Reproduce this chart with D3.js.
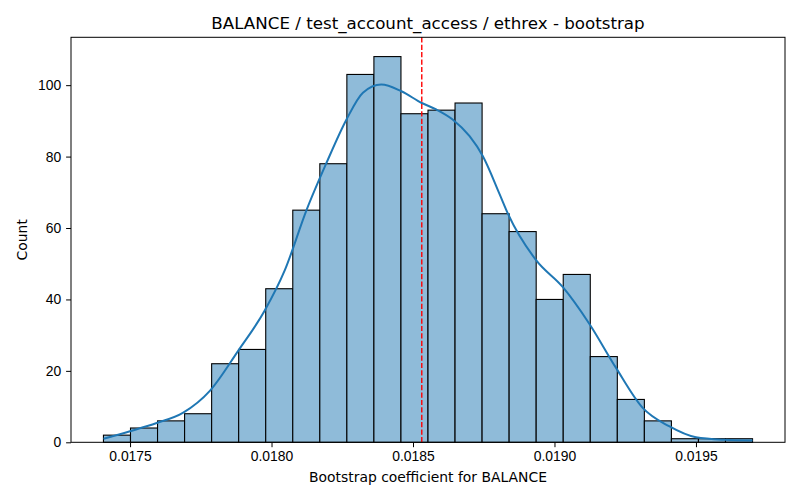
<!DOCTYPE html>
<html>
<head>
  <script src="https://d3js.org/d3.v7.min.js"></script>
  <style>
    body {
  margin: 0;
  background-color: #ffffff;
  font-family: 'DejaVu Sans', sans-serif;
}

svg {
  display: block;
}

.tick text {
  font-size: 13.9px;
  fill: #000000;
}

.tick line,
.domain {
  stroke: #000000;
  stroke-width: 1px;
}

.bar {
  fill: #8fbbd9;
  stroke: #000000;
  stroke-width: 1.1px;
}

.kde {
  fill: none;
  stroke: #1f77b4;
  stroke-width: 2px;
}
  </style>
</head>
<body>

<script>
// Histogram bins (24 equal bins between the sample min and max).
const binStart = 0.017406;
const binEnd = 0.0197;
const counts = [2, 4, 6, 8, 22, 26, 43, 65, 78, 103, 108, 92,
                93, 95, 64, 59, 40, 47, 24, 12, 6, 1, 1, 1];

// KDE curve: x values and counts.
const kdeX = [0.017406, 0.0175, 0.017594, 0.017688, 0.017782, 0.017882,
              0.017976, 0.018047, 0.018124, 0.018194, 0.018265, 0.018323,
              0.018388, 0.018459, 0.018531, 0.018582, 0.018640, 0.018700,
              0.018747, 0.018806, 0.018835, 0.018935, 0.019029, 0.019123,
              0.019217, 0.019311, 0.019405, 0.0195, 0.0196, 0.0197];
const kdeY = [1.0, 3.1, 5.4, 8.3, 14.4, 25.6,
              36.9, 48.2, 65.1, 78.2, 90.4, 97.9,
              100.2, 98.3, 95.0, 93.2, 90.4, 85.7,
              80.1, 69.5, 64.1, 51.0, 43.5, 33.2,
              20.9, 9.7, 4.5, 1.4, 0.7, 0.5];

// Observed coefficient (red dashed line).
const observed = 0.018531;

const xTicks = [0.0175, 0.0180, 0.0185, 0.0190, 0.0195];
const yTicks = [0, 20, 40, 60, 80, 100];

const title = "BALANCE / test_account_access / ethrex - bootstrap";
const xLabel = "Bootstrap coefficient for BALANCE";
const yLabel = "Count";

const width = 800;
const height = 500;
const margin = { top: 37.3, right: 15, bottom: 57.7, left: 71 };

const binWidth = (binEnd - binStart) / counts.length;
const bins = counts.map((c, i) => ({
  x0: binStart + i * binWidth,
  x1: binStart + (i + 1) * binWidth,
  count: c
}));

// matplotlib-style 5% margins on the data range
const pad = (binEnd - binStart) * 0.05;
const x = d3.scaleLinear()
  .domain([binStart - pad, binEnd + pad])
  .range([margin.left, width - margin.right]);

const y = d3.scaleLinear()
  .domain([0, d3.max(counts) * 1.05])
  .range([height - margin.bottom, margin.top]);

const svg = d3.select("body")
  .append("svg")
  .attr("width", width)
  .attr("height", height)
  .style("font-family", "'DejaVu Sans', sans-serif");

// bars
svg.append("g")
  .selectAll("rect")
  .data(bins)
  .join("rect")
  .attr("class", "bar")
  .attr("x", d => x(d.x0))
  .attr("y", d => y(d.count))
  .attr("width", d => x(d.x1) - x(d.x0))
  .attr("height", d => y(0) - y(d.count));

// kde line
const line = d3.line()
  .x(d => x(d[0]))
  .y(d => y(d[1]))
  .curve(d3.curveMonotoneX);

svg.append("path")
  .datum(kdeX.map((v, i) => [v, kdeY[i]]))
  .attr("class", "kde")
  .attr("d", line);

// observed value
svg.append("line")
  .attr("x1", x(observed))
  .attr("x2", x(observed))
  .attr("y1", margin.top)
  .attr("y2", height - margin.bottom)
  .attr("stroke", "#ff0000")
  .attr("stroke-width", 1.4)
  .attr("stroke-dasharray", "5.2,2.2");

// axes
svg.append("g")
  .attr("transform", `translate(0,${height - margin.bottom})`)
  .call(d3.axisBottom(x)
    .tickValues(xTicks)
    .tickFormat(d3.format(".4f"))
    .tickSize(4.9)
    .tickPadding(4.4)
    .tickSizeOuter(0));

svg.append("g")
  .attr("transform", `translate(${margin.left},0)`)
  .call(d3.axisLeft(y)
    .tickValues(yTicks)
    .tickSize(4.9)
    .tickPadding(4.9)
    .tickSizeOuter(0));

svg.selectAll(".domain").remove();

// frame (all four spines)
svg.append("rect")
  .attr("x", margin.left)
  .attr("y", margin.top)
  .attr("width", width - margin.left - margin.right)
  .attr("height", height - margin.top - margin.bottom)
  .attr("fill", "none")
  .attr("stroke", "#000")
  .attr("stroke-width", 1);

// title and labels
svg.append("text")
  .attr("x", (margin.left + width - margin.right) / 2)
  .attr("y", 29.3)
  .attr("text-anchor", "middle")
  .attr("font-size", "16.7px")
  .text(title);

svg.append("text")
  .attr("x", (margin.left + width - margin.right) / 2)
  .attr("y", 482)
  .attr("text-anchor", "middle")
  .attr("font-size", "13.9px")
  .text(xLabel);

svg.append("text")
  .attr("transform", `translate(27,${(margin.top + height - margin.bottom) / 2}) rotate(-90)`)
  .attr("text-anchor", "middle")
  .attr("font-size", "13.9px")
  .text(yLabel);
</script>
</body>
</html>
